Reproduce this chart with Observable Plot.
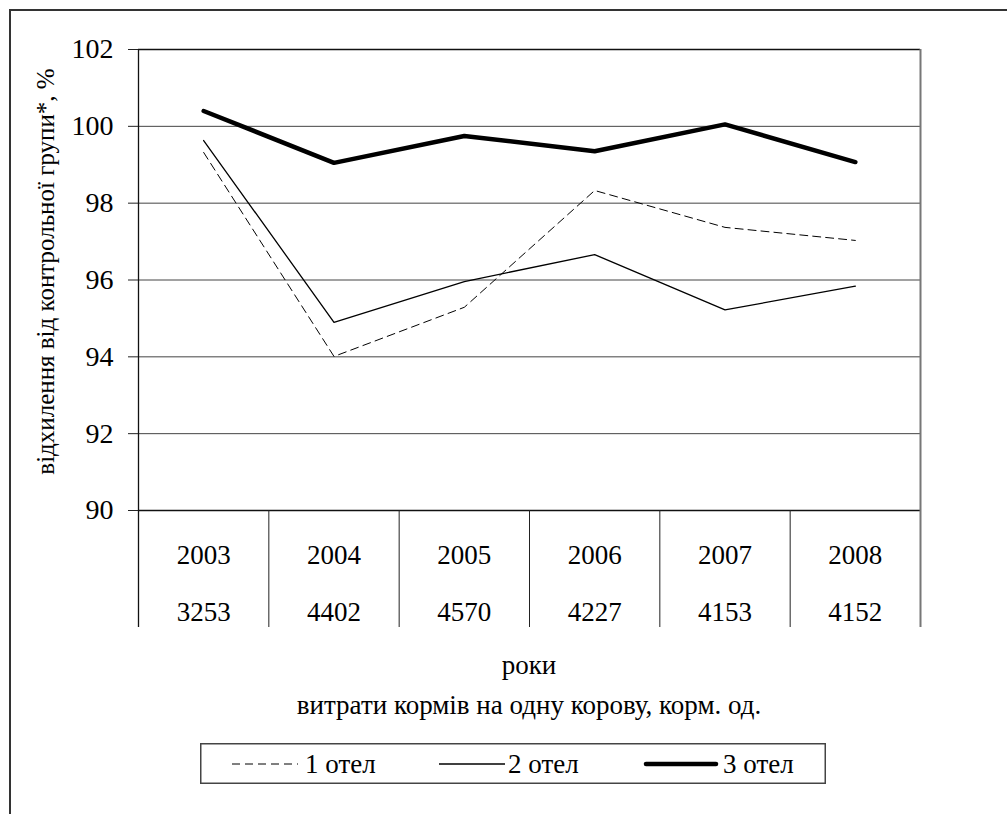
<!DOCTYPE html>
<html>
<head>
<meta charset="utf-8">
<script src="https://cdn.jsdelivr.net/npm/d3@7"></script>
<script src="https://cdn.jsdelivr.net/npm/@observablehq/plot@0.6"></script>
<style>
  html, body { margin: 0; padding: 0; background: #fff; }
  body { width: 1007px; height: 814px; overflow: hidden; position: relative;
         font-family: "Liberation Serif", "DejaVu Serif", "Noto Serif", serif; color: #000; }
  #outer { position: absolute; left: 9px; top: 9px; width: 1100px; height: 900px;
           border: 2px solid #333; box-sizing: border-box; }
  #chart { position: absolute; left: 0; top: 0; }
  .xlabel { position: absolute; left: 138px; width: 782px; text-align: center;
            font-size: 27px; line-height: 30px; white-space: nowrap; }
  #legend { position: absolute; left: 200px; top: 743px; }
</style>
</head>
<body>
<div id="outer"></div>
<div id="chart"></div>
<div class="xlabel" id="xl1" style="top:650px"></div>
<div class="xlabel" id="xl2" style="top:690px"></div>
<div id="legend"></div>
<script>
// ---- data ----
const years = ["2003", "2004", "2005", "2006", "2007", "2008"];
const feedCosts = ["3253", "4402", "4570", "4227", "4153", "4152"];
const calving1 = [99.32, 94.01, 95.29, 98.33, 97.37, 97.03];
const calving2 = [99.63, 94.90, 95.96, 96.66, 95.22, 95.84];
const calving3 = [100.40, 99.05, 99.75, 99.35, 100.05, 99.07];
const seriesNames = ["1 отел", "2 отел", "3 отел"];
const yTicks = [90, 92, 94, 96, 98, 100, 102];
const yTitle = "відхилення від контрольної групи*, %";
const xTitle1 = "роки";
const xTitle2 = "витрати кормів на одну корову, корм. од.";

// ---- layout ----
const W = 1007, H = 640;
const plotTop = 49, axisBottom = 510, tableBottom = 627, plotLeft = 138, plotRight = 920;
const idx = years.map((_, i) => i);
const edges = [...idx.map(i => i - 0.5), years.length - 0.5];
const serif = "'Liberation Serif', 'DejaVu Serif', 'Noto Serif', serif";

const styles = [
  {stroke: "#000", strokeWidth: 1, strokeDasharray: "8,5"},
  {stroke: "#000", strokeWidth: 1.3},
  {stroke: "#000", strokeWidth: 4.5, strokeLinecap: "round", strokeLinejoin: "round"}
];
const seriesData = [calving1, calving2, calving3];

const chart = Plot.plot({
  width: W, height: H,
  marginTop: plotTop, marginLeft: plotLeft, marginRight: W - plotRight, marginBottom: H - tableBottom,
  x: {domain: [-0.5, years.length - 0.5], axis: null},
  y: {domain: [yTicks[0], yTicks[yTicks.length - 1]], range: [axisBottom, plotTop], axis: null},
  style: {background: "transparent", fontFamily: serif, fontSize: "28px", color: "#000"},
  marks: [
    Plot.ruleY(yTicks.slice(1, -1), {stroke: "#444", strokeWidth: 1}),
    Plot.ruleY([yTicks[0], yTicks[yTicks.length - 1]], {stroke: "#111", strokeWidth: 1.3}),
    Plot.ruleX(edges.slice(1, -1), {stroke: "#222", strokeWidth: 1, insetTop: axisBottom - plotTop}),
    Plot.ruleX([edges[0]], {stroke: "#111", strokeWidth: 1.3}),
    Plot.ruleX([edges[edges.length - 1]], {stroke: "#777", strokeWidth: 2}),
    Plot.axisY({ticks: yTicks, tickSize: 10, tickPadding: 15, fontSize: 28, label: null, stroke: "#222"}),
    ...seriesData.map((vals, k) => Plot.line(vals, {x: (d, i) => i, y: d => d, ...styles[k]})),
    Plot.text(years, {x: (d, i) => i, y: yTicks[0], dy: 45, fontSize: 27, fill: "#000"}),
    Plot.text(feedCosts, {x: (d, i) => i, y: yTicks[0], dy: 102, fontSize: 27, fill: "#000"}),
    Plot.text([yTitle], {frameAnchor: "top-left", textAnchor: "middle", rotate: -90,
                         dx: 36 - plotLeft, dy: 271 - plotTop, fontSize: 25, fill: "#000"})
  ]
});
document.getElementById("chart").appendChild(chart);

document.getElementById("xl1").textContent = xTitle1;
document.getElementById("xl2").textContent = xTitle2;

// ---- legend ----
const legW = 625, legH = 40;
const sampleX = [[32, 98], [239, 305], [446, 516]];
const textX = [105, 308, 523];
const leg = d3.select("#legend").append("svg").attr("width", legW + 2).attr("height", legH + 2);
leg.append("rect").attr("x", 0.75).attr("y", 0.75).attr("width", legW - 0.5).attr("height", legH - 0.5)
  .attr("fill", "#fff").attr("stroke", "#444").attr("stroke-width", 1.5);
seriesNames.forEach((name, k) => {
  const s = styles[k];
  leg.append("line").attr("x1", sampleX[k][0]).attr("x2", sampleX[k][1])
    .attr("y1", legH / 2 + 1).attr("y2", legH / 2 + 1)
    .attr("stroke", s.stroke).attr("stroke-width", s.strokeWidth)
    .attr("stroke-dasharray", s.strokeDasharray || null)
    .attr("stroke-linecap", s.strokeLinecap || null);
  leg.append("text").attr("x", textX[k]).attr("y", legH / 2 + 1).attr("dy", "0.35em")
    .attr("font-family", serif).attr("font-size", 27).attr("fill", "#000").text(name);
});
</script>
</body>
</html>
